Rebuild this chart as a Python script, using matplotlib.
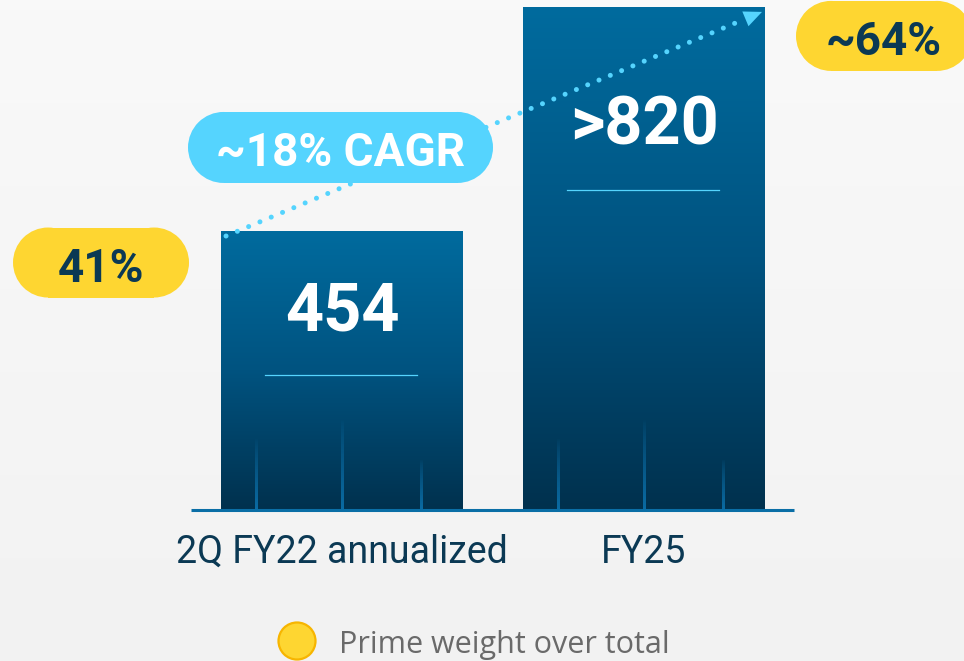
import numpy as np
import matplotlib
matplotlib.use("Agg")
import matplotlib.pyplot as plt
from matplotlib.patches import Rectangle, Polygon, Circle
from matplotlib.colors import LinearSegmentedColormap, to_rgb

# --- data -------------------------------------------------------------
categories = ["2Q FY22 annualized", "FY25"]
values = [454, 820]
value_labels = ["454", ">820"]
prime_share = ["41%", "~64%"]
cagr_label = "~18% CAGR"
legend_label = "Prime weight over total"

# --- style ------------------------------------------------------------
W, H = 964, 661
NAVY = "#0b3954"
YELLOW = "#fed631"
CYAN = "#55d4fe"
AXIS_BLUE = "#0a6ea6"
FONT = ["Roboto", "DejaVu Sans"]
bar_cmap = LinearSegmentedColormap.from_list(
    "bar", [(0.0, "#00314e"), (0.5, "#005380"), (1.0, "#006b9e")])

fig = plt.figure(figsize=(W / 100, H / 100), dpi=100)

# soft grey backdrop
bg = fig.add_axes([0, 0, 1, 1])
bg.imshow(np.linspace(0, 1, 64).reshape(-1, 1), aspect="auto",
          cmap=LinearSegmentedColormap.from_list("bg", ["#f9f9f9", "#f2f2f2"]),
          extent=(0, 1, 0, 1), origin="upper")
bg.set_axis_off()

# data axes: bars sit on y=0, 0.6123 px per unit
ax = fig.add_axes([0, 0, 1, 1])
ax.set_xlim(-1.1325, 2.0596)
ax.set_ylim(-248.2, 831.3)
ax.set_axis_off()
ax.patch.set_visible(False)

# pixel-space overlay for decorations
deco = fig.add_axes([0, 0, 1, 1])
deco.set_xlim(0, W)
deco.set_ylim(0, H)
deco.set_axis_off()
deco.patch.set_visible(False)

x = np.arange(len(categories))
bars = ax.bar(x, values, width=0.8013, color="none", edgecolor="none", zorder=2)


def to_px(px, py):
    return ax.transData.transform((px, py))


grad = np.linspace(1, 0, 256).reshape(-1, 1)
corners = []
for b in bars:
    x0, x1 = b.get_x(), b.get_x() + b.get_width()
    im = ax.imshow(grad, cmap=bar_cmap, aspect="auto", origin="upper",
                   extent=(x0, x1, 0, b.get_height()), zorder=2)
    im.set_clip_path(b)
    (l, btm), (r, top) = to_px(x0, 0), to_px(x1, b.get_height())
    corners.append((l, btm, r, top))

# faint light streaks rising from the foot of each bar
glint_rgb = to_rgb("#0a6ba3")
for l, btm, r, top in corners:
    for frac, h in zip((0.145, 0.5, 0.83), (71, 90, 50)):
        cx = l + frac * (r - l)
        rgba = np.zeros((64, 1, 4))
        rgba[..., :3] = glint_rgb
        rgba[:, 0, 3] = np.linspace(0, 1, 64) ** 0.7
        deco.imshow(rgba, aspect="auto", origin="upper",
                    extent=(cx - 1.5, cx + 1.5, btm, btm + h), zorder=3)

# baseline
deco.plot([corners[0][0] - 30, corners[-1][2] + 29], [H - 510] * 2,
          color=AXIS_BLUE, lw=2.2, solid_capstyle="butt", zorder=4)

# value labels and underline inside each bar
for (l, btm, r, top), lab, drop in zip(corners, value_labels, (99, 138)):
    cx = (l + r) / 2
    deco.text(cx, top - drop, lab, ha="center", va="baseline", color="white",
              fontsize=48, fontweight="bold", family=FONT, zorder=5)
    deco.plot([l + 44, r - 46], [top - drop - 45] * 2, color=CYAN, lw=0.9, zorder=5)

# category labels
for (l, btm, r, top), cat in zip(corners, categories):
    deco.text((l + r) / 2, btm - 54, cat, ha="center", va="baseline",
              color=NAVY, fontsize=27, family=FONT, zorder=5)


def pill(cx, cy, w, h, color, text, tcolor):
    r = h / 2
    deco.add_patch(Rectangle((cx - w / 2 + r, cy - r), w - h, h,
                             facecolor=color, edgecolor="none", zorder=7))
    for ex in (cx - w / 2 + r, cx + w / 2 - r):
        deco.add_patch(Circle((ex, cy), r, facecolor=color, edgecolor="none", zorder=7))
    deco.text(cx, cy - 19, text, ha="center", va="baseline", color=tcolor,
              fontsize=33, fontweight="bold", family=FONT, zorder=8)


# prime weight pills beside each bar
l0, b0, r0, t0 = corners[0]
l1, b1, r1, t1 = corners[1]
pill(l0 - 32 - 88, t0 - 31.5, 176, 70, YELLOW, prime_share[0], NAVY)
pill(r1 + 31 + 88, t1 - 29, 176, 70, YELLOW, prime_share[1], NAVY)

# dotted growth arrow from one bar top to the other
start = np.array([l0 + 5, t0 - 5])
tip = np.array([r1 - 3, t1 - 5])
d = (tip - start) / np.linalg.norm(tip - start)
n = np.array([-d[1], d[0]])
base = tip - 18 * d
deco.plot([start[0], base[0]], [start[1], base[1]], color=CYAN, lw=3.6,
          linestyle=(0, (0.01, 2.44)), dash_capstyle="round", zorder=6)
deco.add_patch(Polygon([tip, base + 8 * n, base - 8 * n], closed=True,
                       facecolor=CYAN, edgecolor="none", zorder=6))

# CAGR badge sitting on the arrow
cagr_c = start + (tip - start) * 0.2136
pill(cagr_c[0], cagr_c[1] + 40.7, 305, 71, CYAN, cagr_label, "white")

# legend
deco.add_patch(Circle((297, H - 641), 18.5, facecolor=YELLOW, edgecolor="#f7b500",
                      lw=1.6, zorder=5))
deco.text(339, H - 653, legend_label, ha="left", va="baseline", color="#6a6a6a",
          fontsize=22, family=["Open Sans", "DejaVu Sans"], zorder=5)

fig.savefig("out.png", dpi=100)
